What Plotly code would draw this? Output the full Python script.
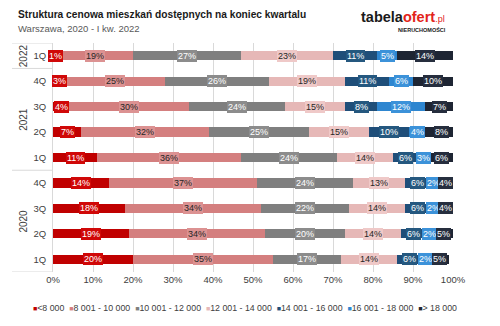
import plotly.graph_objects as go

# Rows from top to bottom
years = ["2022", "2021", "2021", "2021", "2021", "2020", "2020", "2020", "2020"]
quarters = ["1Q", "4Q", "3Q", "2Q", "1Q", "4Q", "3Q", "2Q", "1Q"]

series_names = ["<8 000", "8 001 - 10 000", "10 001 - 12 000", "12 001 - 14 000",
                "14 001 - 16 000", "16 001 - 18 000", "> 18 000"]
v_lt8 = [1, 3, 4, 7, 11, 14, 18, 19, 20]
v_8_10 = [19, 25, 30, 32, 36, 37, 34, 34, 35]
v_10_12 = [27, 26, 24, 25, 24, 24, 22, 20, 17]
v_12_14 = [23, 19, 15, 15, 14, 13, 14, 14, 14]
v_14_16 = [11, 11, 8, 10, 6, 6, 6, 6, 6]
v_16_18 = [5, 6, 12, 4, 3, 2, 2, 2, 2]
v_gt18 = [14, 10, 7, 8, 6, 4, 4, 5, 5]
series_values = [v_lt8, v_8_10, v_10_12, v_12_14, v_14_16, v_16_18, v_gt18]

colors = ["#C00000", "#D47F7F", "#7F7F7F", "#E6B8B7", "#1F4E79", "#2E86D0", "#1E2533"]
box_colors = ["#D00808", "#DC9292", "#8C8C8C", "#EFC9C8", "#25587F", "#3C92D9", "#262E3E"]
text_colors = ["white", "#262626", "white", "#262626", "white", "white", "white"]

x_ticks = [0, 10, 20, 30, 40, 50, 60, 70, 80, 90, 100]
x_ticklabels = [f"{t}%" for t in x_ticks]

FONT = "Liberation Sans, Arial, sans-serif"
n = len(quarters)
ypos = list(range(n))

fig = go.Figure()
for name, vals, col in zip(series_names, series_values, colors):
    fig.add_trace(go.Bar(
        y=ypos, x=vals, name=name, orientation="h",
        marker=dict(color=col, line=dict(width=0)),
        width=0.36, showlegend=False, hoverinfo="skip",
    ))

annotations = []
# value labels
cum = [0] * n
for si, vals in enumerate(series_values):
    for i, v in enumerate(vals):
        center = cum[i] + v / 2
        cum[i] += v
        annotations.append(dict(
            x=center, y=ypos[i], xref="x", yref="y", text=f"{v}%",
            showarrow=False, font=dict(family=FONT, size=9, color=text_colors[si]),
            bgcolor=box_colors[si], borderpad=1, borderwidth=0,
        ))

# group labels (years)
groups = []
for i, yv in enumerate(years):
    if not groups or groups[-1][0] != yv:
        groups.append([yv, i, i])
    else:
        groups[-1][2] = i
shapes = []
for g, a, b in groups:
    annotations.append(dict(
        x=-0.0925, y=(a + b) / 2, xref="paper", yref="y", text=g, textangle=-90,
        showarrow=False, font=dict(family=FONT, size=10, color="#404040"),
    ))
    shapes.append(dict(type="line", xref="paper", yref="y", x0=-0.1025, x1=0,
                       y0=a - 0.5, y1=a - 0.5, line=dict(color="#D9D9D9", width=1)))
shapes.append(dict(type="line", xref="paper", yref="y", x0=-0.1025, x1=0,
                   y0=n - 0.5, y1=n - 0.5, line=dict(color="#D9D9D9", width=1)))

# title, subtitle
annotations.append(dict(x=16, y=15, xref="paper", yref="paper", showarrow=False,
                        text="<b>Struktura cenowa mieszkań dostępnych na koniec kwartalu</b>",
                        font=dict(family=FONT, size=10.2, color="#1a1a1a"),
                        xanchor="left", yanchor="middle"))
annotations.append(dict(x=16, y=28.5, xref="paper", yref="paper", showarrow=False,
                        text="Warszawa, 2020 - I kw. 2022",
                        font=dict(family=FONT, size=9.5, color="#595959"),
                        xanchor="left", yanchor="middle"))
# logo
annotations.append(dict(x=447, y=17, xref="paper", yref="paper", showarrow=False,
                        text='<b><span style="color:#1a1a1a">tabela</span><span style="color:#E2231A">ofert</span></b><span style="color:#E2231A;font-size:9px">.pl</span>',
                        font=dict(family=FONT, size=14.5),
                        xanchor="right", yanchor="middle"))
annotations.append(dict(x=448, y=29.5, xref="paper", yref="paper", showarrow=False,
                        text="<b>NIERUCHOMOŚCI</b>",
                        font=dict(family=FONT, size=5.5, color="#1a1a1a"),
                        xanchor="right", yanchor="middle"))
# legend
legend_text = "  ".join(
    f'<span style="color:{c};font-size:7px">■</span>{nm}' for nm, c in zip(series_names, colors))
annotations.append(dict(x=245, y=308, xref="paper", yref="paper", showarrow=False,
                        text=legend_text, font=dict(family=FONT, size=8.8, color="#404040"),
                        xanchor="center", yanchor="middle"))

# convert pixel-positioned paper annotations
W, H = 500, 326
L, R, T, B = 53, 47, 43, 54
pw, ph = W - L - R, H - T - B
for a in annotations:
    if a["xref"] == "paper" and a["yref"] == "paper":
        a["x"] = (a["x"] - L) / pw
        a["y"] = (H - B - a["y"]) / ph

fig.update_layout(
    width=W, height=H, margin=dict(l=L, r=R, t=T, b=B),
    paper_bgcolor="white", plot_bgcolor="white",
    barmode="stack", bargap=0,
    font=dict(family=FONT, size=9.5, color="#404040"),
    xaxis=dict(range=[0, 100], tickvals=x_ticks, ticktext=x_ticklabels,
               showgrid=True, gridcolor="#D9D9D9", gridwidth=1, zeroline=False,
               showline=False, ticks="", tickfont=dict(size=9.5, color="#404040"),
               fixedrange=True),
    yaxis=dict(range=[n - 0.5, -0.5], tickvals=ypos, ticktext=quarters,
               showgrid=False, zeroline=False, showline=True, linecolor="#D9D9D9",
               ticks="", ticklabelstandoff=4, tickfont=dict(size=9.5, color="#404040"),
               fixedrange=True),
    annotations=annotations, shapes=shapes, showlegend=False,
)

fig.write_html("out.html")
